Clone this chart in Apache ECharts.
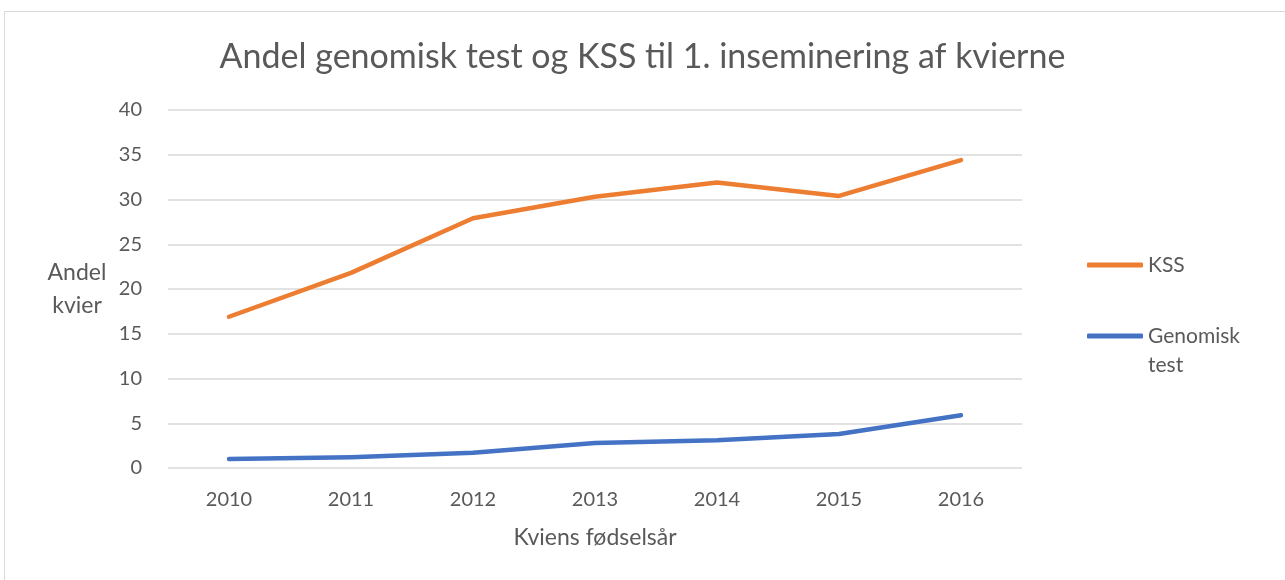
<!DOCTYPE html>
<html>
<head>
<meta charset="utf-8">
<script src="https://cdn.jsdelivr.net/npm/echarts@6/dist/echarts.min.js"></script>
<style>
html, body { margin: 0; padding: 0; background: #fff; }
#chart { width: 1285px; height: 580px; }
</style>
</head>
<body>
<div id="chart"></div>
<script>
var years = ['2010', '2011', '2012', '2013', '2014', '2015', '2016'];
var kss = [16.9, 21.8, 27.9, 30.3, 31.9, 30.4, 34.4];
var genomisk = [1.0, 1.2, 1.7, 2.8, 3.1, 3.8, 5.9];
var seriesNames = ['KSS', 'Genomisk test'];

var font = 'Lato';
var txt = '#595959';
var chart = echarts.init(document.getElementById('chart'));

chart.setOption({
    backgroundColor: '#fff',
    animation: false,
    title: {
        text: 'Andel genomisk test og KSS til 1. inseminering af kvierne',
        left: 'center',
        top: 35,
        textStyle: { fontFamily: font, fontSize: 34, fontWeight: 'normal', color: txt }
    },
    graphic: [{
        type: 'rect',
        shape: { x: 4.5, y: 11.5, width: 1290, height: 600 },
        style: { fill: 'none', stroke: '#d9d9d9', lineWidth: 1 },
        silent: true
    }],
    legend: [{
        data: [seriesNames[0]],
        left: 1082,
        top: 245.5,
        icon: 'roundRect',
        itemWidth: 56,
        itemHeight: 5,
        textStyle: { fontFamily: font, fontSize: 21, color: txt, lineHeight: 29 }
    }, {
        data: [seriesNames[1]],
        left: 1082,
        top: 287.5,
        icon: 'roundRect',
        itemWidth: 56,
        itemHeight: 5,
        // empty first line keeps "Genomisk" level with the line icon
        formatter: function (name) { return '\n' + name.replace(' ', '\n'); },
        textStyle: { fontFamily: font, fontSize: 21, color: txt, lineHeight: 29 }
    }],
    grid: { left: 168, right: 263, top: 110, bottom: 112 },
    xAxis: {
        type: 'category',
        data: years,
        boundaryGap: true,
        name: 'Kviens fødselsår',
        nameLocation: 'middle',
        nameGap: 58,
        nameTextStyle: { fontFamily: font, fontSize: 23, color: txt },
        axisLine: { show: false },
        axisTick: { show: false },
        axisLabel: { margin: 22, fontFamily: font, fontSize: 20, color: txt }
    },
    yAxis: {
        type: 'value',
        min: 0,
        max: 40,
        interval: 5,
        name: 'Andel\nkvier',
        nameLocation: 'middle',
        nameRotate: 0,
        nameGap: 91,
        nameTextStyle: { fontFamily: font, fontSize: 23, color: txt, align: 'center', lineHeight: 33, padding: [14, 0, 0, 0] },
        axisLine: { show: false },
        axisTick: { show: false },
        axisLabel: { margin: 26, fontFamily: font, fontSize: 20, color: txt },
        splitLine: { lineStyle: { color: '#d9d9d9', width: 1.5 } }
    },
    series: [{
        name: seriesNames[0],
        type: 'line',
        data: kss,
        symbol: 'none',
        color: '#ED7D31',
        lineStyle: { width: 4.5, cap: 'round', join: 'round' }
    }, {
        name: seriesNames[1],
        type: 'line',
        data: genomisk,
        symbol: 'none',
        color: '#4472C4',
        lineStyle: { width: 4.5, cap: 'round', join: 'round' }
    }]
});
</script>
</body>
</html>
